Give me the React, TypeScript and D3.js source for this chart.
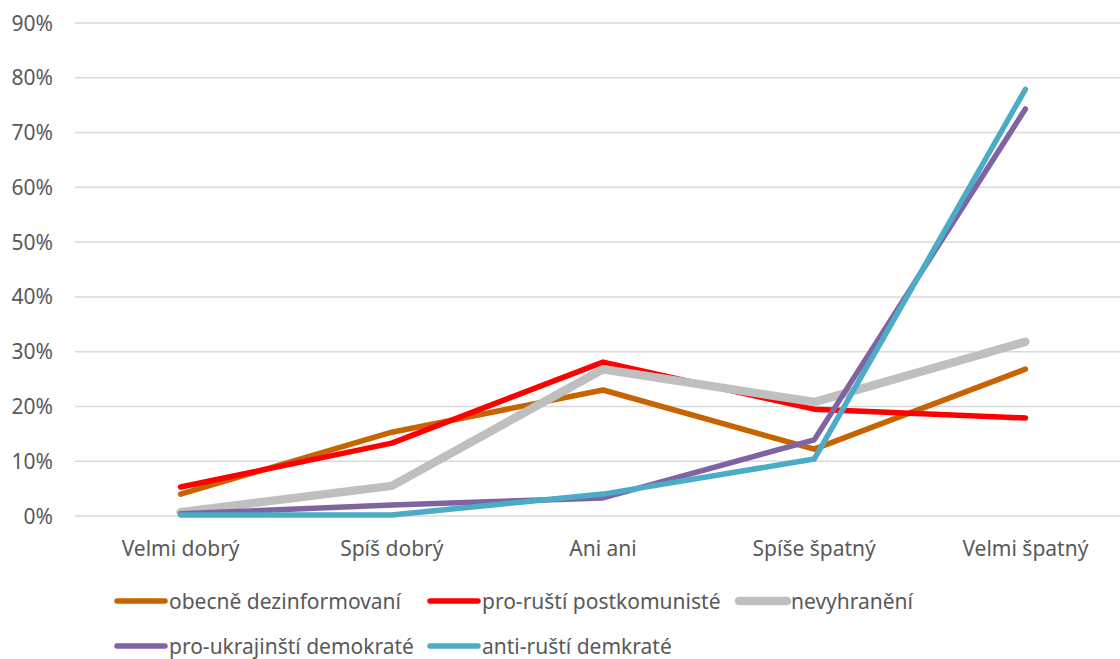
import React from "react";
import * as d3 from "d3";

const categories = ["Velmi dobrý", "Spíš dobrý", "Ani ani", "Spíše špatný", "Velmi špatný"];
const seriesNames = [
  "obecně dezinformovaní",
  "pro-ruští postkomunisté",
  "nevyhranění",
  "pro-ukrajinští demokraté",
  "anti-ruští demkraté",
];
const obecne = [0.04, 0.153, 0.23, 0.122, 0.268];
const proRusti = [0.053, 0.133, 0.281, 0.195, 0.179];
const nevyhraneni = [0.007, 0.055, 0.268, 0.208, 0.318];
const proUkrajinsti = [0.004, 0.02, 0.033, 0.139, 0.743];
const antiRusti = [0.002, 0.002, 0.04, 0.104, 0.779];
const yTicks = [0, 0.1, 0.2, 0.3, 0.4, 0.5, 0.6, 0.7, 0.8, 0.9];

const seriesValues = [obecne, proRusti, nevyhraneni, proUkrajinsti, antiRusti];
const colors = ["#C86400", "#FF0000", "#BFBFBF", "#8064A2", "#4BACC6"];
const widths = [5.5, 5.5, 8.5, 5.5, 5.5];

const W = 1120;
const H = 659;
const FONT = "'Noto Sans', sans-serif";

export default function App() {
  const x = d3.scaleBand<string>().domain(categories).range([75, 1131]);
  const y = d3.scaleLinear().domain([0, 0.9]).range([516, 23]);
  const line = d3
    .line<number>()
    .x((_, i) => (x(categories[i]) as number) + x.bandwidth() / 2)
    .y((v) => y(v));

  const legendPos = [
    [117, 601],
    [430, 601],
    [739, 601],
    [117, 646],
    [430, 646],
  ];

  return (
    <svg width={W} height={H} style={{ position: "absolute", left: 0, top: 0, background: "#fff" }}>
      <rect width={W} height={H} fill="#fff" />
      {yTicks.map((t) => (
        <g key={t}>
          <line x1={75} x2={W} y1={y(t)} y2={y(t)} stroke="#D9D9D9" strokeWidth={1.5} />
          <text
            x={53}
            y={y(t)}
            dy="0.36em"
            textAnchor="end"
            fontFamily={FONT}
            fontSize={21}
            fill="#595959"
          >
            {d3.format(".0%")(t)}
          </text>
        </g>
      ))}
      {categories.map((c) => (
        <text
          key={c}
          x={(x(c) as number) + x.bandwidth() / 2}
          y={556}
          textAnchor="middle"
          fontFamily={FONT}
          fontSize={21}
          fill="#595959"
        >
          {c}
        </text>
      ))}
      {seriesValues.map((vals, i) => (
        <path
          key={i}
          d={line(vals) || ""}
          fill="none"
          stroke={colors[i]}
          strokeWidth={widths[i]}
          strokeLinecap="round"
          strokeLinejoin="round"
        />
      ))}
      {seriesNames.map((n, i) => (
        <g key={n} transform={`translate(${legendPos[i][0]},${legendPos[i][1]})`}>
          <line x1={0} x2={48} y1={0} y2={0} stroke={colors[i]} strokeWidth={widths[i]} strokeLinecap="round" />
          <text x={52} y={0} dy="0.36em" fontFamily={FONT} fontSize={21} fill="#595959">
            {n}
          </text>
        </g>
      ))}
    </svg>
  );
}
